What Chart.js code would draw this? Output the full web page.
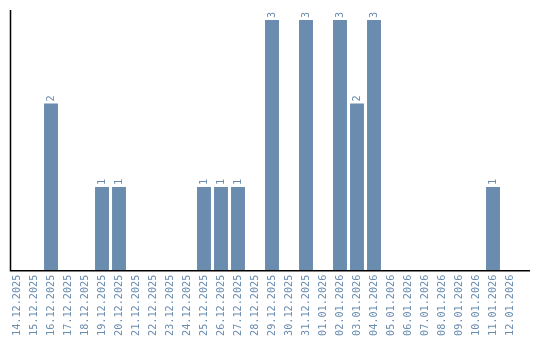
<!DOCTYPE html>
<html>
<head>
<meta charset="utf-8">
<script src="https://cdn.jsdelivr.net/npm/chart.js@4"></script>
<style>
  html, body { margin: 0; padding: 0; background: #fff; }
  #wrap { width: 540px; height: 340px; }
</style>
</head>
<body>
<div id="wrap"><canvas id="chart"></canvas></div>
<script>
const days = [
  '14.12.2025', '15.12.2025', '16.12.2025', '17.12.2025', '18.12.2025', '19.12.2025',
  '20.12.2025', '21.12.2025', '22.12.2025', '23.12.2025', '24.12.2025', '25.12.2025',
  '26.12.2025', '27.12.2025', '28.12.2025', '29.12.2025', '30.12.2025', '31.12.2025',
  '01.01.2026', '02.01.2026', '03.01.2026', '04.01.2026', '05.01.2026', '06.01.2026',
  '07.01.2026', '08.01.2026', '09.01.2026', '10.01.2026', '11.01.2026', '12.01.2026'
];
const counts = [
  0, 0, 2, 0, 0, 1,
  1, 0, 0, 0, 0, 1,
  1, 1, 0, 3, 0, 3,
  0, 3, 2, 3, 0, 0,
  0, 0, 0, 0, 1, 0
];

const barColor = '#6a8caf';
const monoFont = 'DejaVu Sans Mono';

// value labels, rotated, above each bar
const valueLabels = {
  id: 'valueLabels',
  afterDatasetsDraw(chart) {
    const ctx = chart.ctx;
    const meta = chart.getDatasetMeta(0);
    ctx.save();
    ctx.fillStyle = barColor;
    ctx.font = '10.2px "' + monoFont + '"';
    ctx.textAlign = 'left';
    ctx.textBaseline = 'middle';
    meta.data.forEach((bar, i) => {
      if (!counts[i]) return;
      ctx.save();
      ctx.translate(bar.x, bar.y - 2);
      ctx.rotate(-Math.PI / 2);
      ctx.fillText(String(counts[i]), 0, 0);
      ctx.restore();
    });
    ctx.restore();
  }
};

// axis lines: y a little inside the plot, x running past the last category
const axisLines = {
  id: 'axisLines',
  afterDraw(chart) {
    const ctx = chart.ctx;
    const area = chart.chartArea;
    const x0 = area.left + 2;
    ctx.save();
    ctx.strokeStyle = '#000';
    ctx.lineWidth = 1.5;
    ctx.beginPath();
    ctx.moveTo(x0, area.top);
    ctx.lineTo(x0, area.bottom);
    ctx.lineTo(chart.width - 10, area.bottom);
    ctx.stroke();
    ctx.restore();
  }
};

new Chart(document.getElementById('chart'), {
  type: 'bar',
  data: {
    labels: days,
    datasets: [{
      data: counts,
      backgroundColor: barColor,
      categoryPercentage: 1,
      barPercentage: 0.82
    }]
  },
  options: {
    responsive: true,
    maintainAspectRatio: false,
    animation: false,
    layout: { padding: { top: 10, left: 8.5, right: 21.5, bottom: 0 } },
    plugins: {
      legend: { display: false },
      tooltip: { enabled: false }
    },
    scales: {
      x: {
        grid: { display: false, drawTicks: false },
        border: { display: false },
        ticks: {
          color: barColor,
          font: { family: monoFont, size: 10.2 },
          minRotation: 90,
          maxRotation: 90,
          autoSkip: false,
          padding: 4
        }
      },
      y: {
        min: 0,
        max: 3.12,
        grid: { display: false, drawTicks: false },
        border: { display: false },
        ticks: { display: false },
        afterFit(scale) { scale.width = 0; }
      }
    }
  },
  plugins: [valueLabels, axisLines]
});
</script>
</body>
</html>
